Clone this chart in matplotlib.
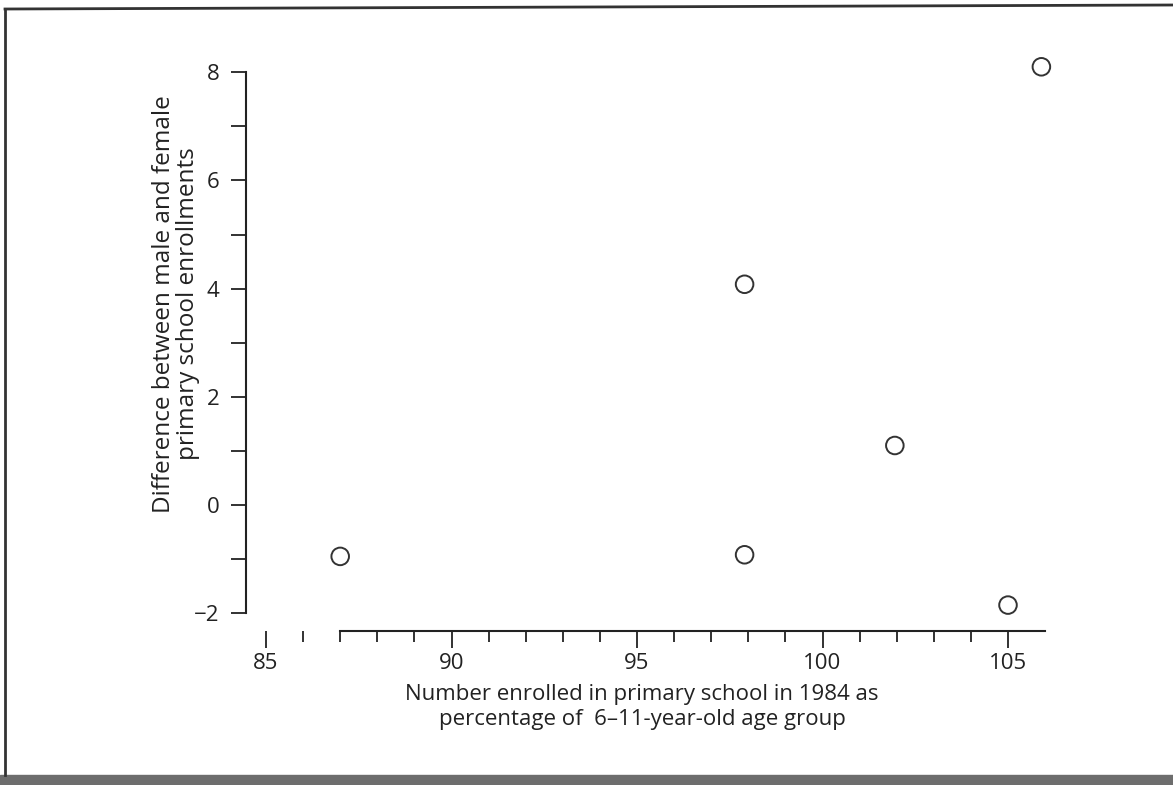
import matplotlib
matplotlib.use("Agg")
import matplotlib.pyplot as plt
from matplotlib.ticker import FixedLocator, NullFormatter
from matplotlib.patches import Rectangle
from matplotlib.lines import Line2D

# Data
enrolled_pct = [87.0, 97.9, 97.9, 101.95, 105.0, 105.9]
gender_gap = [-0.95, 4.08, -0.92, 1.1, -1.85, 8.1]

x_major = [85, 90, 95, 100, 105]
x_minor = [86, 87, 88, 89, 91, 92, 93, 94, 96, 97, 98, 99, 101, 102, 103, 104]
y_major = [-2, 0, 2, 4, 6, 8]
y_minor = [-1, 1, 3, 5, 7]
y_tick_labels = ["\u22122", "0", "2", "4", "6", "8"]

xlabel = "Number enrolled in primary school in 1984 as\npercentage of  6\u201311-year-old age group"
ylabel = "Difference between male and female\nprimary school enrollments"

W, H = 1173, 785
plt.rcParams['font.family'] = ['Open Sans', 'DejaVu Sans']
fig = plt.figure(figsize=(W / 100, H / 100), dpi=100)

xpx_per = 37.1
ypx_per = 54.1
x0_px = 266 - (85 - 84) * xpx_per
x1_px = 266 + (107 - 85) * xpx_per
y_top_px = 505 - 8.5 * ypx_per
y_bot_px = 505 + 2.5 * ypx_per
ax = fig.add_axes([x0_px / W, 1 - y_bot_px / H, (x1_px - x0_px) / W, (y_bot_px - y_top_px) / H])
ax.set_xlim(84, 107)
ax.set_ylim(-2.5, 8.5)

ax.scatter(enrolled_pct, gender_gap, s=160, facecolors='none', edgecolors='#333333', linewidths=1.4, zorder=3)

for s in ['top', 'right']:
    ax.spines[s].set_visible(False)
ax.spines['left'].set_position(('data', 84.45))
ax.spines['left'].set_bounds(-2, 8)
ax.spines['bottom'].set_position(('data', -2.33))
ax.spines['bottom'].set_bounds(87, 106)
for s in ['left', 'bottom']:
    ax.spines[s].set_linewidth(1.5)
    ax.spines[s].set_color('#222222')

ax.xaxis.set_major_locator(FixedLocator(x_major))
ax.xaxis.set_minor_locator(FixedLocator(x_minor))
ax.yaxis.set_major_locator(FixedLocator(y_major))
ax.yaxis.set_minor_locator(FixedLocator(y_minor))
ax.set_yticklabels(y_tick_labels)
ax.xaxis.set_minor_formatter(NullFormatter())

ax.tick_params(axis='x', which='major', direction='out', length=12, width=1.3, colors='#222222', labelsize=16, pad=4)
ax.tick_params(axis='x', which='minor', direction='out', length=8, width=1.3, colors='#222222')
ax.tick_params(axis='y', which='both', direction='out', length=11, width=1.3, colors='#222222', labelsize=16, pad=8)

fig.text(642 / W, 1 - 707 / H, xlabel, ha='center', va='center', fontsize=16, color='#222222', linespacing=1.3)
fig.text(176 / W, 1 - 304 / H, ylabel, ha='center', va='center', rotation=90, fontsize=17.5, color='#222222', linespacing=1.05)

fig.add_artist(Rectangle((0, 0), 1, 10 / H, transform=fig.transFigure, color='#6d6d6d', zorder=0))
fig.add_artist(Line2D([5 / W, 5 / W], [10 / H, 1 - 9 / H], transform=fig.transFigure, color='#333333', lw=2))
fig.add_artist(Line2D([5 / W, 1], [1 - 9 / H, 1 - 5 / H], transform=fig.transFigure, color='#333333', lw=2))

fig.savefig("out.png", dpi=100)
